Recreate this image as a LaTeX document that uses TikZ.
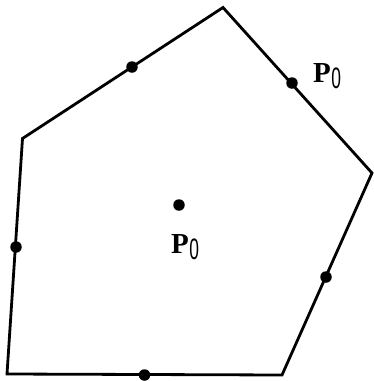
\documentclass[tikz,border=0pt]{standalone}
\usepackage{fontspec}
\setmainfont{Liberation Serif}
\newfontfamily\zerofont{Liberation Sans}
\newcommand{\pzero}{\textbf{P}\kern0.5pt\raisebox{-6.5pt}{\zerofont\scalebox{0.6}[1.02]{0}}}
\begin{document}
\begin{tikzpicture}[x=1pt,y=-1pt,
  edge/.style={line width=2.8pt,line join=miter},
  pt/.style={circle,fill=black,inner sep=0pt,minimum size=11.5pt},
  lab/.style={font=\fontsize{29}{32}\selectfont,inner sep=0pt}]
\useasboundingbox (0,0) rectangle (373,381);
\coordinate (A) at (223,7.5);
\coordinate (B) at (372,173);
\coordinate (C) at (282,375);
\coordinate (D) at (7,374);
\coordinate (E) at (22.5,138.5);
\draw[edge] (A) -- (B) -- (C) -- (D) -- (E) -- cycle;
\node[pt] (m1) at (132,67) {};
\node[pt] (m2) at (292,83) {};
\node[pt] (m3) at (326,277) {};
\node[pt] (m4) at (144.5,375) {};
\node[pt] (m5) at (16,247) {};
\node[pt] (c) at (179,205) {};
\node[lab] (l1) at (327,76) {\pzero};
\node[lab] (l2) at (185,247) {\pzero};
\end{tikzpicture}
\end{document}
